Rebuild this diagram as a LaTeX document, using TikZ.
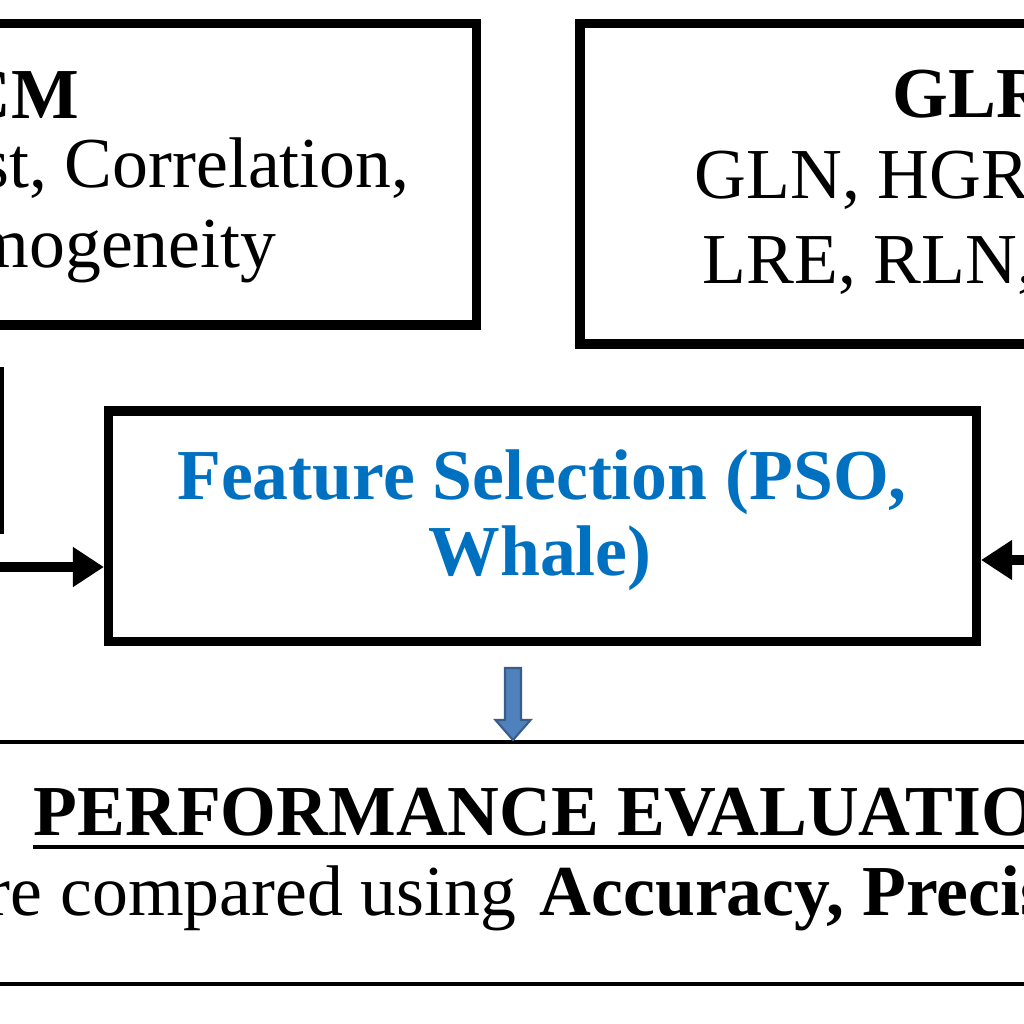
\documentclass[tikz,border=0pt]{standalone}
\usepackage{fontspec}
\setmainfont{Liberation Serif}
\usetikzlibrary{arrows.meta}
\definecolor{fsblue}{RGB}{0,112,192}
\definecolor{arrowfill}{RGB}{79,129,189}
\definecolor{arrowedge}{RGB}{56,93,138}

\begin{document}
\begin{tikzpicture}[
  box/.style={draw,line width=2.6pt,inner sep=0pt},
  txt/.style={inner sep=0pt,font=\fontsize{20.4}{22}\selectfont},
  conn/.style={line width=2.6pt,-{Triangle[length=0.31cm,width=0.38cm]}}]
\useasboundingbox (0,0) rectangle (10.24,-10.24);
\fill[white] (0,0) rectangle (10.24,-10.24);
\clip (0,0) rectangle (10.24,-10.24);

% the two boxes at the top
\node[box,minimum width=6.265cm,minimum height=3.015cm] (glcm) at (1.6325,-1.7425) {};
\node[txt,anchor=base east] (glcmhead) at (0.80,-1.18) {\bfseries GLCM};
\node[txt,anchor=base east] (glcmone) at (4.10,-1.87) {Contrast, Correlation,};
\node[txt,anchor=base east] (glcmtwo) at (2.77,-2.67) {Homogeneity};

\node[box,minimum width=6.2cm,minimum height=3.205cm] (glrlm) at (8.90,-1.8375) {};
\node[txt,anchor=base west] (glrlmhead) at (8.92,-1.17) {\bfseries GLRLM};
\node[txt,anchor=base west] (glrlmone) at (6.94,-1.98) {GLN, HGRE,};
\node[txt,anchor=base west] (glrlmtwo) at (7.02,-2.83) {LRE, RLN,};

% feature selection
\node[box,minimum width=3cm,minimum height=1.57cm] (fext) at (-1.505,-4.505) {};
\node[box,minimum width=8.68cm,minimum height=2.305cm] (fsel) at (5.425,-5.2625) {};
\node[txt,anchor=base,text=fsblue] (fselone) at (5.42,-4.99) {\bfseries Feature Selection (PSO,};
\node[txt,anchor=base,text=fsblue] (fseltwo) at (5.40,-5.75) {\bfseries Whale)};

\coordinate (lin) at (-0.3,-5.67);
\coordinate (rin) at (10.5,-5.60);
\draw[conn] (lin) -- (lin -| fsel.west);
\draw[conn] (rin) -- (rin -| fsel.east);

% performance evaluation
\node[draw,line width=1.3pt,minimum width=11.24cm,minimum height=2.42cm,inner sep=0pt] (perfbox) at (5.12,-8.63) {};
\coordinate (tip) at (5.13,-7.40);
\filldraw[fill=arrowfill,draw=arrowedge,line width=0.6pt] (tip) -- ++(-0.175,0.2) -- ++(0.095,0) -- ++(0,0.52)
  -- ++(0.16,0) -- ++(0,-0.52) -- ++(0.095,0) -- cycle;

\node[txt,anchor=base west] (perf) at (0.33,-8.35) {\bfseries PERFORMANCE EVALUATION};
\draw[line width=1.1pt] ([yshift=-0.12cm]perf.base west) -- ([yshift=-0.12cm]perf.base east);
\node[txt,anchor=base east] (cmp) at (5.17,-9.15) {are compared using};
\node[txt,anchor=base west] (acc) at (5.39,-9.15) {\bfseries Accuracy, Precision};
\end{tikzpicture}
\end{document}
